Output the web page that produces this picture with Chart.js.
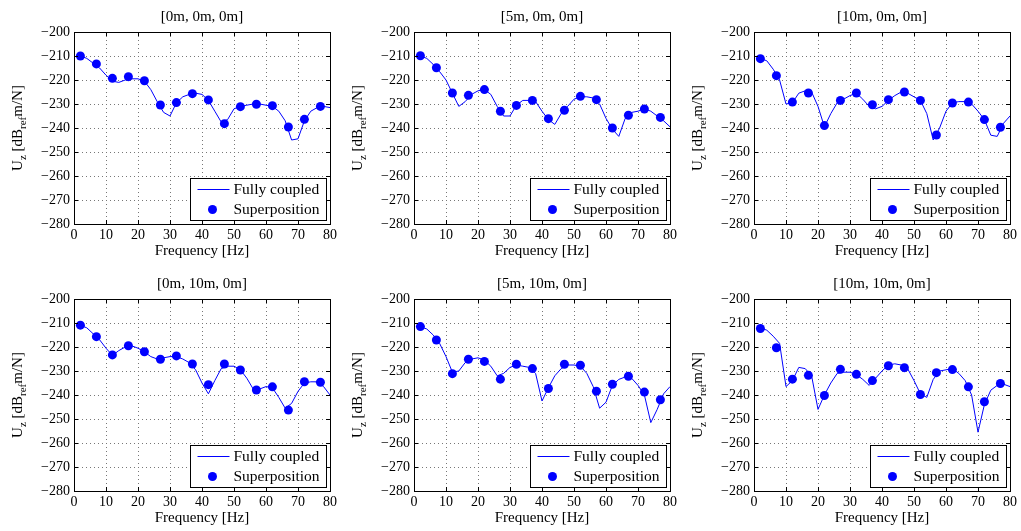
<!DOCTYPE html>
<html>
<head>
<meta charset="utf-8">
<script src="https://cdn.jsdelivr.net/npm/chart.js@4.4.1/dist/chart.umd.min.js"></script>
<style>
  body { margin: 0; background: #fff; }
  #wrap { position: relative; width: 1021px; height: 531px; }
  canvas { position: absolute; }
</style>
</head>
<body>
<div id="wrap"></div>
<script>
// frequencies of the coupled solution and of the superposition samples
const freqLine = [2,4,6,8,10,12,14,16,18,20,22,24,26,28,30,32,34,36,38,40,42,44,46,48,50,52,54,56,58,60,62,64,66,68,70,72,74,76,78,80];
const freqPoints = [2,7,12,17,22,27,32,37,42,47,52,57,62,67,72,77];

const panelTitles = ['[0m, 0m, 0m]', '[5m, 0m, 0m]', '[10m, 0m, 0m]', '[0m, 10m, 0m]', '[5m, 10m, 0m]', '[10m, 10m, 0m]'];
const seriesLabels = ['Fully coupled', 'Superposition'];
const yTicks = [-200,-210,-220,-230,-240,-250,-260,-270,-280];
const xTicks = [0,10,20,30,40,50,60,70,80];

// [0m, 0m, 0m]
const coupled1 = [-210,-211,-213,-215,-218,-220.5,-221,-220,-219.5,-219.5,-220.5,-224,-229,-233.5,-235,-229.5,-227,-226,-225.5,-226,-228.5,-233,-237.5,-236.5,-232,-231,-230.5,-230,-230,-230.5,-231,-233,-237,-245,-244.5,-237,-233,-231.5,-231,-231.5];
const super1 = [-210,-213.3,-219.3,-218.6,-220.3,-230.4,-229.4,-225.7,-228.3,-238.2,-231.1,-230.1,-230.7,-239.6,-236.4,-231];
// [5m, 0m, 0m]
const coupled2 = [-210,-211,-213.5,-216.5,-220,-225.5,-231,-229,-226,-224.5,-224,-226,-231,-235,-235,-230.5,-228.5,-228.5,-229,-233,-236.5,-238.5,-234,-231,-228,-227,-227,-227.5,-230,-236,-240.5,-243.5,-236,-233.5,-233,-232,-233,-235,-237,-239.5];
const super2 = [-209.9,-214.9,-225.4,-226.4,-224,-233,-230.6,-228.5,-236.1,-232.6,-226.8,-228.2,-240,-234.7,-232.1,-235.6];
// [10m, 0m, 0m]
const coupled3 = [-211,-212,-215.5,-220,-230,-229.5,-225.5,-224.5,-225,-231,-239.5,-234,-229.5,-228,-226.5,-225.5,-228,-231,-232,-231,-228.5,-226.5,-225,-225.5,-227,-228.5,-234,-245,-240,-233,-229.5,-229,-229,-230,-233,-236.5,-243,-243.5,-238,-235];
const super3 = [-211.1,-218.2,-229.2,-225.4,-239,-228.5,-225.4,-230.3,-228.2,-225,-228.5,-242.9,-229.6,-229.2,-236.5,-239.7];
// [0m, 10m, 0m]
const coupled4 = [-211,-212,-214.5,-217,-220.5,-223.5,-221.5,-220,-219.5,-220.5,-222,-224,-225,-224.5,-224,-224,-225,-226.5,-229.5,-235,-239.5,-234,-229,-228,-228,-229.5,-233,-237.5,-237.5,-236.5,-237,-241,-245.5,-243.5,-238.5,-235,-234.5,-234.5,-236.5,-240];
const super4 = [-210.9,-215.7,-223.3,-219.5,-222,-225.1,-223.7,-227.1,-235.7,-227.1,-229.6,-237.9,-236.6,-246.3,-234.5,-234.7];
// [5m, 10m, 0m]
const coupled5 = [-211.5,-212.5,-215,-218.5,-224,-230.5,-230,-226.5,-225,-224.5,-225.5,-228,-232,-231,-228.5,-227.5,-228,-228.5,-231,-242.5,-237,-232,-229,-227.5,-227.5,-228,-231,-236.5,-245.5,-243,-236,-233.5,-232.5,-233,-236,-240,-251.5,-246,-239.5,-236.5];
const super5 = [-211.5,-217.1,-231.1,-225.1,-226,-233.4,-227.2,-229,-237.3,-227.2,-227.6,-238.4,-235.5,-232.2,-238.8,-242];
// [10m, 10m, 0m]
const coupled6 = [-212,-213,-215.5,-218.5,-236.5,-234,-228.5,-229,-232,-246,-240,-235,-231,-230.5,-230.5,-231.5,-233.5,-236,-233,-230,-227.5,-227,-227.5,-229,-234,-239.5,-241,-233.5,-230,-229.5,-229,-231,-234,-240,-255.5,-244,-238,-236,-235.5,-236.5];
const super6 = [-212.3,-220.3,-233.4,-231.8,-240.2,-229.3,-231.4,-234,-227.8,-228.6,-239.8,-230.7,-229.4,-236.6,-242.8,-235.2];

const coupledAll = [coupled1, coupled2, coupled3, coupled4, coupled5, coupled6];
const superAll = [super1, super2, super3, super4, super5, super6];

const SERIF = '"Liberation Serif", "DejaVu Serif", serif';
const BLUE = '#0000ff';

const toXY = (xs, ys) => xs.map((x, i) => ({ x: x, y: ys[i] }));
const minus = v => String(v).replace('-', '\u2212');

// frame, inner tick marks, titles, y label with subscripts and legend box
const decorations = {
    id: 'decorations',
    afterDraw(chart, args, opts) {
        const ctx = chart.ctx;
        const a = chart.chartArea;
        const xs = chart.scales.x, ys = chart.scales.y;
        ctx.save();
        ctx.strokeStyle = '#000';
        ctx.lineWidth = 1;
        ctx.beginPath();
        for (const t of xTicks) {
            const px = Math.round(xs.getPixelForValue(t)) + 0.5;
            ctx.moveTo(px, a.bottom); ctx.lineTo(px, a.bottom - 4);
            ctx.moveTo(px, a.top); ctx.lineTo(px, a.top + 4);
        }
        for (const t of yTicks) {
            const py = Math.round(ys.getPixelForValue(t)) + 0.5;
            ctx.moveTo(a.left, py); ctx.lineTo(a.left + 4, py);
            ctx.moveTo(a.right, py); ctx.lineTo(a.right - 4, py);
        }
        ctx.stroke();
        ctx.strokeRect(Math.round(a.left) + 0.5, Math.round(a.top) + 0.5, Math.round(a.right - a.left), Math.round(a.bottom - a.top));

        // panel title
        ctx.fillStyle = '#000';
        ctx.textAlign = 'center';
        ctx.textBaseline = 'middle';
        ctx.font = '15px ' + SERIF;
        ctx.fillText(opts.title, (a.left + a.right) / 2, a.top - 15);

        // x label
        ctx.fillText('Frequency [Hz]', (a.left + a.right) / 2, a.bottom + 27);

        // y label: U_z [dB_ref m/N]
        const parts = [['U', 0], ['z', 1], [' [dB', 0], ['ref', 1], ['m/N]', 0]];
        const big = '15px ' + SERIF, small = '11px ' + SERIF;
        let total = 0;
        for (const [s, sub] of parts) { ctx.font = sub ? small : big; total += ctx.measureText(s).width; }
        ctx.translate(18, (a.top + a.bottom) / 2);
        ctx.rotate(-Math.PI / 2);
        ctx.textAlign = 'left';
        let cx = -total / 2;
        for (const [s, sub] of parts) {
            ctx.font = sub ? small : big;
            ctx.fillText(s, cx, sub ? 5 : 0);
            cx += ctx.measureText(s).width;
        }
        ctx.setTransform(1, 0, 0, 1, 0, 0);

        // legend in lower right corner
        const bw = 136, bh = 42;
        const bx = Math.round(a.right - 4 - bw) + 0.5, by = Math.round(a.bottom - 4 - bh) + 0.5;
        ctx.fillStyle = '#fff';
        ctx.fillRect(bx, by, bw, bh);
        ctx.strokeStyle = '#000';
        ctx.strokeRect(bx, by, bw, bh);
        const ds = chart.data.datasets;
        ctx.strokeStyle = BLUE;
        ctx.lineWidth = 1;
        ctx.beginPath();
        ctx.moveTo(bx + 7, by + 11); ctx.lineTo(bx + 39, by + 11);
        ctx.stroke();
        ctx.fillStyle = BLUE;
        ctx.beginPath();
        ctx.arc(bx + 22, by + 31, 4.5, 0, Math.PI * 2);
        ctx.fill();
        ctx.fillStyle = '#000';
        ctx.font = '15.5px ' + SERIF;
        ctx.textAlign = 'left';
        ctx.textBaseline = 'middle';
        ctx.fillText(ds[0].label, bx + 43, by + 11);
        ctx.fillText(ds[1].label, bx + 43, by + 31);
        ctx.restore();
    }
};

const wrap = document.getElementById('wrap');
const charts = [];
for (let i = 0; i < 6; i++) {
    const col = i % 3, row = Math.floor(i / 3);
    const cv = document.createElement('canvas');
    cv.width = 340; cv.height = 265;
    cv.style.left = (col * 340) + 'px';
    cv.style.top = (row === 0 ? 0 : 267) + 'px';
    wrap.appendChild(cv);

    charts.push(new Chart(cv, {
        type: 'line',
        data: {
            datasets: [{
                label: seriesLabels[0],
                data: toXY(freqLine, coupledAll[i]),
                borderColor: BLUE,
                borderWidth: 1,
                pointRadius: 0,
                tension: 0,
                order: 2
            }, {
                label: seriesLabels[1],
                data: toXY(freqPoints, superAll[i]),
                showLine: false,
                backgroundColor: BLUE,
                borderColor: BLUE,
                borderWidth: 0,
                pointRadius: 4.5,
                order: 1
            }]
        },
        options: {
            responsive: false,
            animation: false,
            layout: { padding: { top: 32, right: 8, left: 0, bottom: 0 } },
            plugins: {
                legend: { display: false },
                tooltip: { enabled: false },
                decorations: { title: panelTitles[i] }
            },
            scales: {
                x: {
                    type: 'linear',
                    min: 0, max: 80,
                    afterBuildTicks: s => { s.ticks = xTicks.map(v => ({ value: v })); },
                    afterFit: s => { s.height = 41; },
                    ticks: { color: '#000', font: { family: SERIF, size: 14 }, padding: 3, maxRotation: 0 },
                    grid: { color: '#777', drawTicks: false },
                    border: { display: false, dash: [1, 3] }
                },
                y: {
                    min: -280, max: -200,
                    afterBuildTicks: s => { s.ticks = yTicks.map(v => ({ value: v })); },
                    afterFit: s => { s.width = 74; },
                    ticks: { color: '#000', font: { family: SERIF, size: 14 }, padding: 4, callback: v => minus(v) },
                    grid: { color: '#777', drawTicks: false },
                    border: { display: false, dash: [1, 3] }
                }
            }
        },
        plugins: [decorations]
    }));
}
</script>
</body>
</html>
